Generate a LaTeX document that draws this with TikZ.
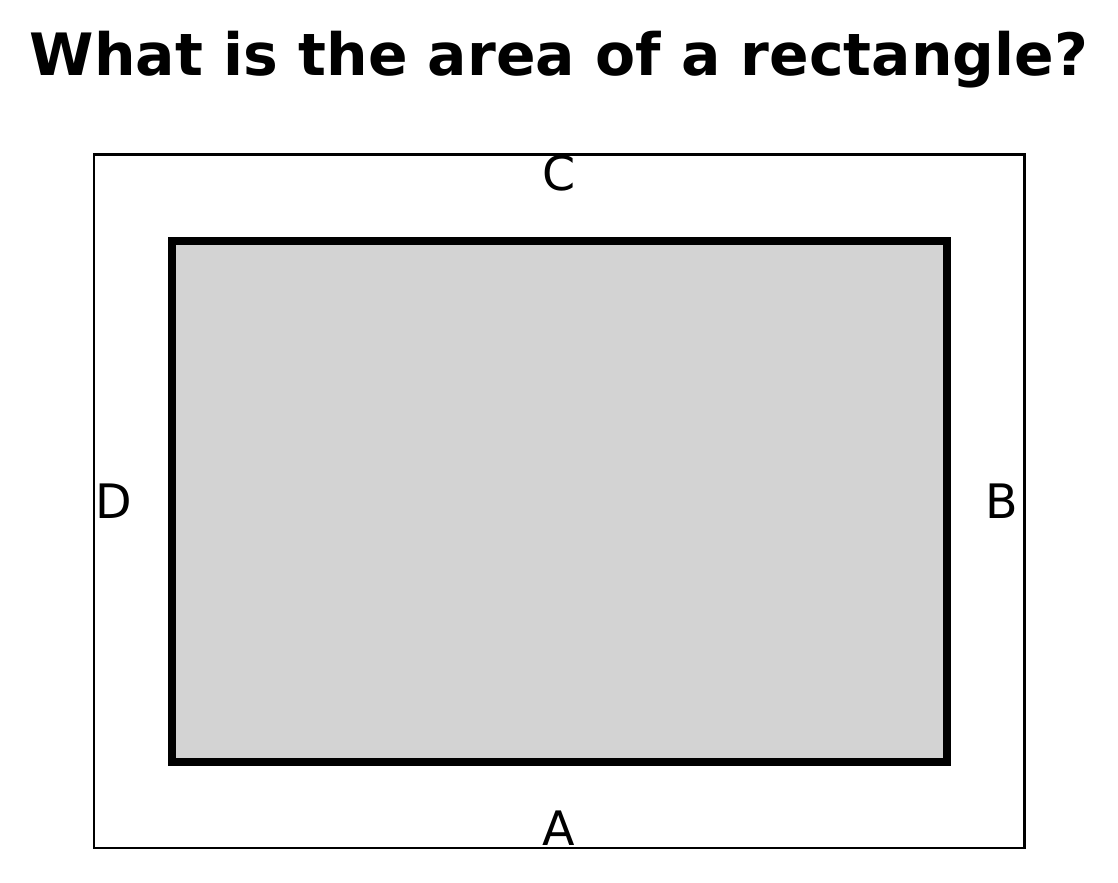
\documentclass[tikz,border=0pt]{standalone}
\usepackage{fontspec}
\setmainfont{DejaVu Sans}
\usetikzlibrary{positioning}
\definecolor{panelgray}{HTML}{D3D3D3}

\begin{document}
\begin{tikzpicture}[
  x=0.01cm, y=-0.01cm,
  frame/.style={draw=black, line width=0.85pt},
  shaded/.style={draw=black, fill=panelgray, line width=2pt},
  side/.style={font=\fontsize{13.5}{16}\selectfont, inner sep=0pt},
  heading/.style={font=\fontsize{16.6}{20}\selectfont\bfseries, inner sep=0pt}
]
% Canvas
\useasboundingbox (0,0) rectangle (1118,883);

% Title
\node[heading] (title) at (559,60) {What is the area of a rectangle?};

% Rectangles
\draw[frame] (94,155) rectangle (1024,848);
\draw[shaded] (172,241) rectangle (947,762);

% Side labels
\node[side] (lc) at (559,173) {C};
\node[side] (ld) at (114,501) {D};
\node[side] (lb) at (1002,501) {B};
\node[side] (la) at (559,828) {A};
\end{tikzpicture}
\end{document}
